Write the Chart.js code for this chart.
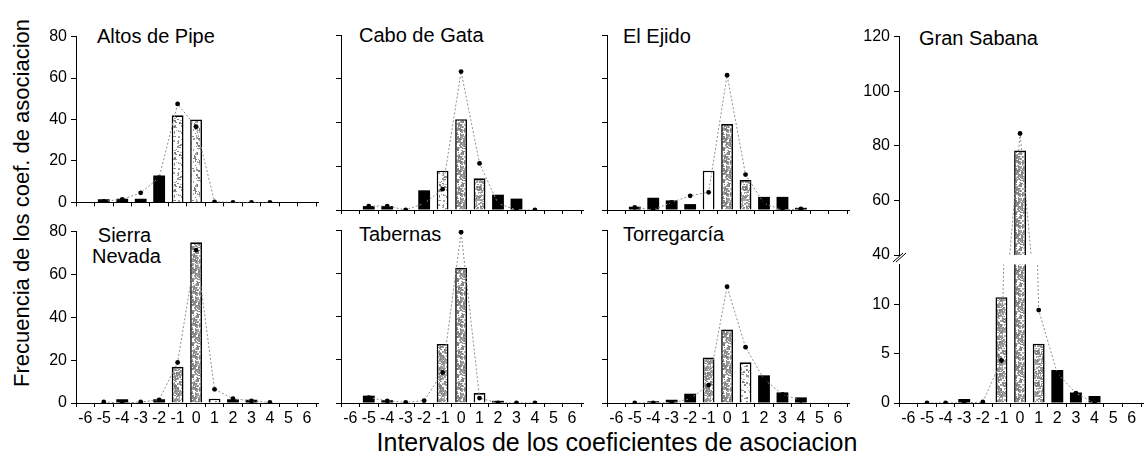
<!DOCTYPE html>
<html>
<head>
<meta charset="utf-8">
<script src="https://cdn.jsdelivr.net/npm/chart.js@4/dist/chart.umd.min.js"></script>
<style>
  html, body { margin: 0; padding: 0; background: #fff; }
  body { width: 1147px; height: 465px; position: relative; overflow: hidden;
         font-family: "Liberation Sans", Arial, sans-serif; color: #000; }
  canvas { position: absolute; }
  .name { position: absolute; font-size: 20px; line-height: 20px; white-space: nowrap; }
  .axis-title { position: absolute; white-space: nowrap; transform-origin: center center; }
</style>
</head>
<body>
<div class="name" style="left:97px;top:26px;">Altos de Pipe</div>
<div class="name" style="left:359px;top:25px;">Cabo de Gata</div>
<div class="name" style="left:623px;top:26px;">El Ejido</div>
<div class="name" style="left:919px;top:28px;">Gran Sabana</div>
<div class="name" style="left:92px;top:225px;width:65px;text-align:center;line-height:21px;">Sierra<br>Nevada</div>
<div class="name" style="left:359px;top:224px;">Tabernas</div>
<div class="name" style="left:623px;top:224px;">Torregarcía</div>
<div class="axis-title" style="left:22px;top:203px;font-size:22px;transform:translate(-50%,-50%) rotate(-90deg);">Frecuencia de los coef. de asociacion</div>
<div class="axis-title" style="left:617px;top:442px;font-size:25px;transform:translate(-50%,-50%);">Intervalos de los coeficientes de asociacion</div>

<script>
// Interval classes of the association coefficients (x axis)
const categories = [-6, -5, -4, -3, -2, -1, 0, 1, 2, 3, 4, 5, 6];

// Observed frequencies (bars) and expected frequencies (dotted line) per site
const altosObserved   = [null, 1.5, 1.8, 1.8, 13, 42, 40, null, null, null, null, null, null];
const altosExpected   = [null, 0.5, 1.5, 4.6, 12, 47.5, 36.5, 0.3, 0, 0, 0, null, null];

const caboObserved    = [null, 1.8, 1.8, null, 9, 18, 41.5, 14.5, 7, 5.2, null, null, null];
const caboExpected    = [null, 1.8, 1.8, 0, 3, 9.5, 63.3, 21.3, 3, 0, 0, null, null];

const ejidoObserved   = [null, 1.5, 5.6, 4.4, 2.7, 18, 39.3, 13.7, 6, 6, 1, null, null];
const ejidoExpected   = [null, 1.2, 0, 3.5, 6.5, 8.1, 61.6, 16.2, 3, 0, 0.5, null, null];

const sabanaObserved  = [null, null, null, 0.4, null, 10.7, 78.3, 6, 3.35, 1.05, 0.7, null, null];
const sabanaExpected  = [null, 0, 0, 0, 0.1, 4.3, 84.5, 9.4, 3, 1, 0, null, null];

const sierraObserved  = [null, null, 1.8, null, 1.8, 16.9, 75, 2, 1.8, 1.5, null, null, null];
const sierraExpected  = [null, 0.5, 0, 0.5, 1.5, 18.9, 71.4, 6.4, 2, 1, 0.3, null, null];

const tabernasObserved = [null, 3.4, 1.3, null, null, 27.3, 62.5, 4.6, 1, null, null, null, null];
const tabernasExpected = [null, 2.5, 1, 0.3, 1.1, 14.1, 79, 2.3, 0, 0, 0, null, null];

const torreObserved   = [null, null, 0.8, 1.5, 4.3, 21, 34, 18.8, 12.8, 4.9, 2.6, null, null];
const torreExpected   = [null, 0, 0, 0, 2, 8.3, 53.8, 25.8, 11, 4, 1.2, null, null];

// Y tick values
const yTicksPanel       = [0, 20, 40, 60, 80];
const yTicksSabanaHigh  = [40, 60, 80, 100, 120];
const yTicksSabanaLow   = [0, 5, 10];

// Bar fill codes: k = solid black, s = dense stipple, l = light stipple, w = white
const altosFill    = ['', 'k', 'k', 'k', 'k', 'l', 'l', '', '', '', '', '', ''];
const caboFill     = ['', 'k', 'k', '', 'k', 'l', 's', 's', 'k', 'k', '', '', ''];
const ejidoFill    = ['', 'k', 'k', 'k', 'k', 'w', 's', 's', 'k', 'k', 'k', '', ''];
const sabanaFill   = ['', '', '', 'k', '', 's', 's', 's', 'k', 'k', 'k', '', ''];
const sierraFill   = ['', '', 'k', '', 'k', 's', 's', 'l', 'k', 'k', '', '', ''];
const tabernasFill = ['', 'k', 'k', '', '', 's', 's', 'w', 'k', '', '', '', ''];
const torreFill    = ['', '', 'k', 'k', 'k', 's', 's', 'l', 'k', 'k', 'k', '', ''];

Chart.defaults.font.family = '"Liberation Sans", Arial, sans-serif';
Chart.defaults.color = '#000';

// Stippled fill used for the open bars (irregular grey dot texture)
function makeStipple(count) {
  const n = 32;
  const c = document.createElement('canvas');
  c.width = n; c.height = n;
  const g = c.getContext('2d');
  g.fillStyle = '#ffffff';
  g.fillRect(0, 0, n, n);
  let h = 2463534242;
  const next = () => { h ^= h << 13; h >>>= 0; h ^= h >>> 17; h ^= h << 5; h >>>= 0; return h; };
  for (let i = 0; i < count; i++) {
    const x = next() % n, y = next() % n;
    const shade = 120 + (next() % 60);
    g.fillStyle = `rgb(${shade},${shade},${shade})`;
    g.fillRect(x, y, 1 + (next() % 2), 1 + (next() % 2));
  }
  return g.createPattern(c, 'repeat');
}
const fillStyles = { k: '#000000', s: makeStipple(520), l: makeStipple(110), w: '#ffffff', '': '#ffffff' };

const Y_AXIS_W = 50, PAD_TOP = 12, PAD_RIGHT = 6;
const TICK_FONT = { size: 16 };

// "//" marks for the broken y axis
const axisBreak = {
  id: 'axisBreak',
  afterDraw(chart) {
    const { ctx, chartArea } = chart;
    ctx.save();
    ctx.strokeStyle = '#000';
    ctx.lineWidth = 1;
    for (const dx of [0, 3]) {
      ctx.beginPath();
      ctx.moveTo(chartArea.left - 6 + dx, chartArea.bottom + 7);
      ctx.lineTo(chartArea.left + 4 + dx, chartArea.bottom - 2);
      ctx.stroke();
    }
    ctx.restore();
  }
};

function panel(p) {
  const xH = p.xShown ? (p.xLabels ? 32 : 6) : 0;
  const padBottom = p.padBottom || 0;
  const cw = Y_AXIS_W + p.width + PAD_RIGHT;
  const ch = PAD_TOP + p.height + xH + padBottom;
  const canvas = document.createElement('canvas');
  canvas.width = cw; canvas.height = ch;
  canvas.style.left = (p.left - Y_AXIS_W) + 'px';
  canvas.style.top = (p.top - PAD_TOP) + 'px';
  canvas.style.width = cw + 'px';
  canvas.style.height = ch + 'px';
  document.body.appendChild(canvas);

  const axisGrid = (len) => ({ drawOnChartArea: false, drawTicks: true, tickLength: len, color: '#000', lineWidth: 1 });
  const axisBorder = { display: true, color: '#000', width: 1 };

  new Chart(canvas, {
    data: {
      labels: categories,
      datasets: [
        {
          type: 'line', data: p.expected, order: 0,
          borderColor: '#909090', borderWidth: 1, borderDash: [2, 2],
          pointRadius: 2.4, pointBackgroundColor: '#000', pointBorderWidth: 0,
          tension: 0, spanGaps: false
        },
        {
          type: 'bar', data: p.observed, order: 1,
          backgroundColor: p.fills.map(f => fillStyles[f]),
          borderColor: '#000',
          borderWidth: p.fills.map(f => (f === 'k' ? 0 : 1.6)),
          barPercentage: 0.64, categoryPercentage: 1
        }
      ]
    },
    options: {
      responsive: false, animation: false, devicePixelRatio: 1,
      layout: { padding: { top: PAD_TOP, right: PAD_RIGHT, left: 0, bottom: padBottom } },
      plugins: { legend: { display: false }, tooltip: { enabled: false } },
      scales: {
        x: {
          type: 'linear', min: -6, max: 6.1, display: p.xShown,
          afterBuildTicks: s => { s.ticks = categories.map(v => ({ value: v })); },
          afterFit: s => { s.height = xH; },
          grid: axisGrid(4), border: axisBorder,
          ticks: { display: !!p.xLabels, font: TICK_FONT, padding: 2, maxRotation: 0, autoSkip: false }
        },
        y: {
          type: 'linear', min: p.yMin, max: p.yMax,
          afterBuildTicks: s => { s.ticks = p.yTicks.map(v => ({ value: v })); },
          afterFit: s => { s.width = Y_AXIS_W; },
          grid: axisGrid(5), border: axisBorder,
          ticks: { display: p.yLabels, font: TICK_FONT, padding: 4 }
        }
      }
    },
    plugins: p.plugins || []
  });
}

// Top row
panel({ left: 76, top: 35, width: 242, height: 175, yMin: 0, yMax: 80, yTicks: yTicksPanel, yLabels: true,
        xShown: true, xLabels: false, observed: altosObserved, expected: altosExpected, fills: altosFill });
panel({ left: 341, top: 35, width: 242, height: 175, yMin: 0, yMax: 80, yTicks: yTicksPanel, yLabels: false,
        xShown: true, xLabels: false, observed: caboObserved, expected: caboExpected, fills: caboFill });
panel({ left: 607, top: 35, width: 242, height: 175, yMin: 0, yMax: 80, yTicks: yTicksPanel, yLabels: false,
        xShown: true, xLabels: false, observed: ejidoObserved, expected: ejidoExpected, fills: ejidoFill });

// Bottom row
panel({ left: 76, top: 230, width: 242, height: 173, yMin: 0, yMax: 80, yTicks: yTicksPanel, yLabels: true,
        xShown: true, xLabels: true, observed: sierraObserved, expected: sierraExpected, fills: sierraFill });
panel({ left: 341, top: 230, width: 242, height: 173, yMin: 0, yMax: 80, yTicks: yTicksPanel, yLabels: false,
        xShown: true, xLabels: true, observed: tabernasObserved, expected: tabernasExpected, fills: tabernasFill });
panel({ left: 607, top: 230, width: 242, height: 173, yMin: 0, yMax: 80, yTicks: yTicksPanel, yLabels: false,
        xShown: true, xLabels: true, observed: torreObserved, expected: torreExpected, fills: torreFill });

// Gran Sabana: broken y axis drawn as an upper and a lower section
panel({ left: 899, top: 35, width: 244, height: 220, yMin: 40, yMax: 120, yTicks: yTicksSabanaHigh, yLabels: true,
        xShown: false, xLabels: false, padBottom: 14, plugins: [axisBreak],
        observed: sabanaObserved, expected: sabanaExpected, fills: sabanaFill });
panel({ left: 899, top: 263, width: 244, height: 140, yMin: 0, yMax: 14, yTicks: yTicksSabanaLow, yLabels: true,
        xShown: true, xLabels: true,
        observed: sabanaObserved, expected: sabanaExpected, fills: sabanaFill });
</script>
</body>
</html>
